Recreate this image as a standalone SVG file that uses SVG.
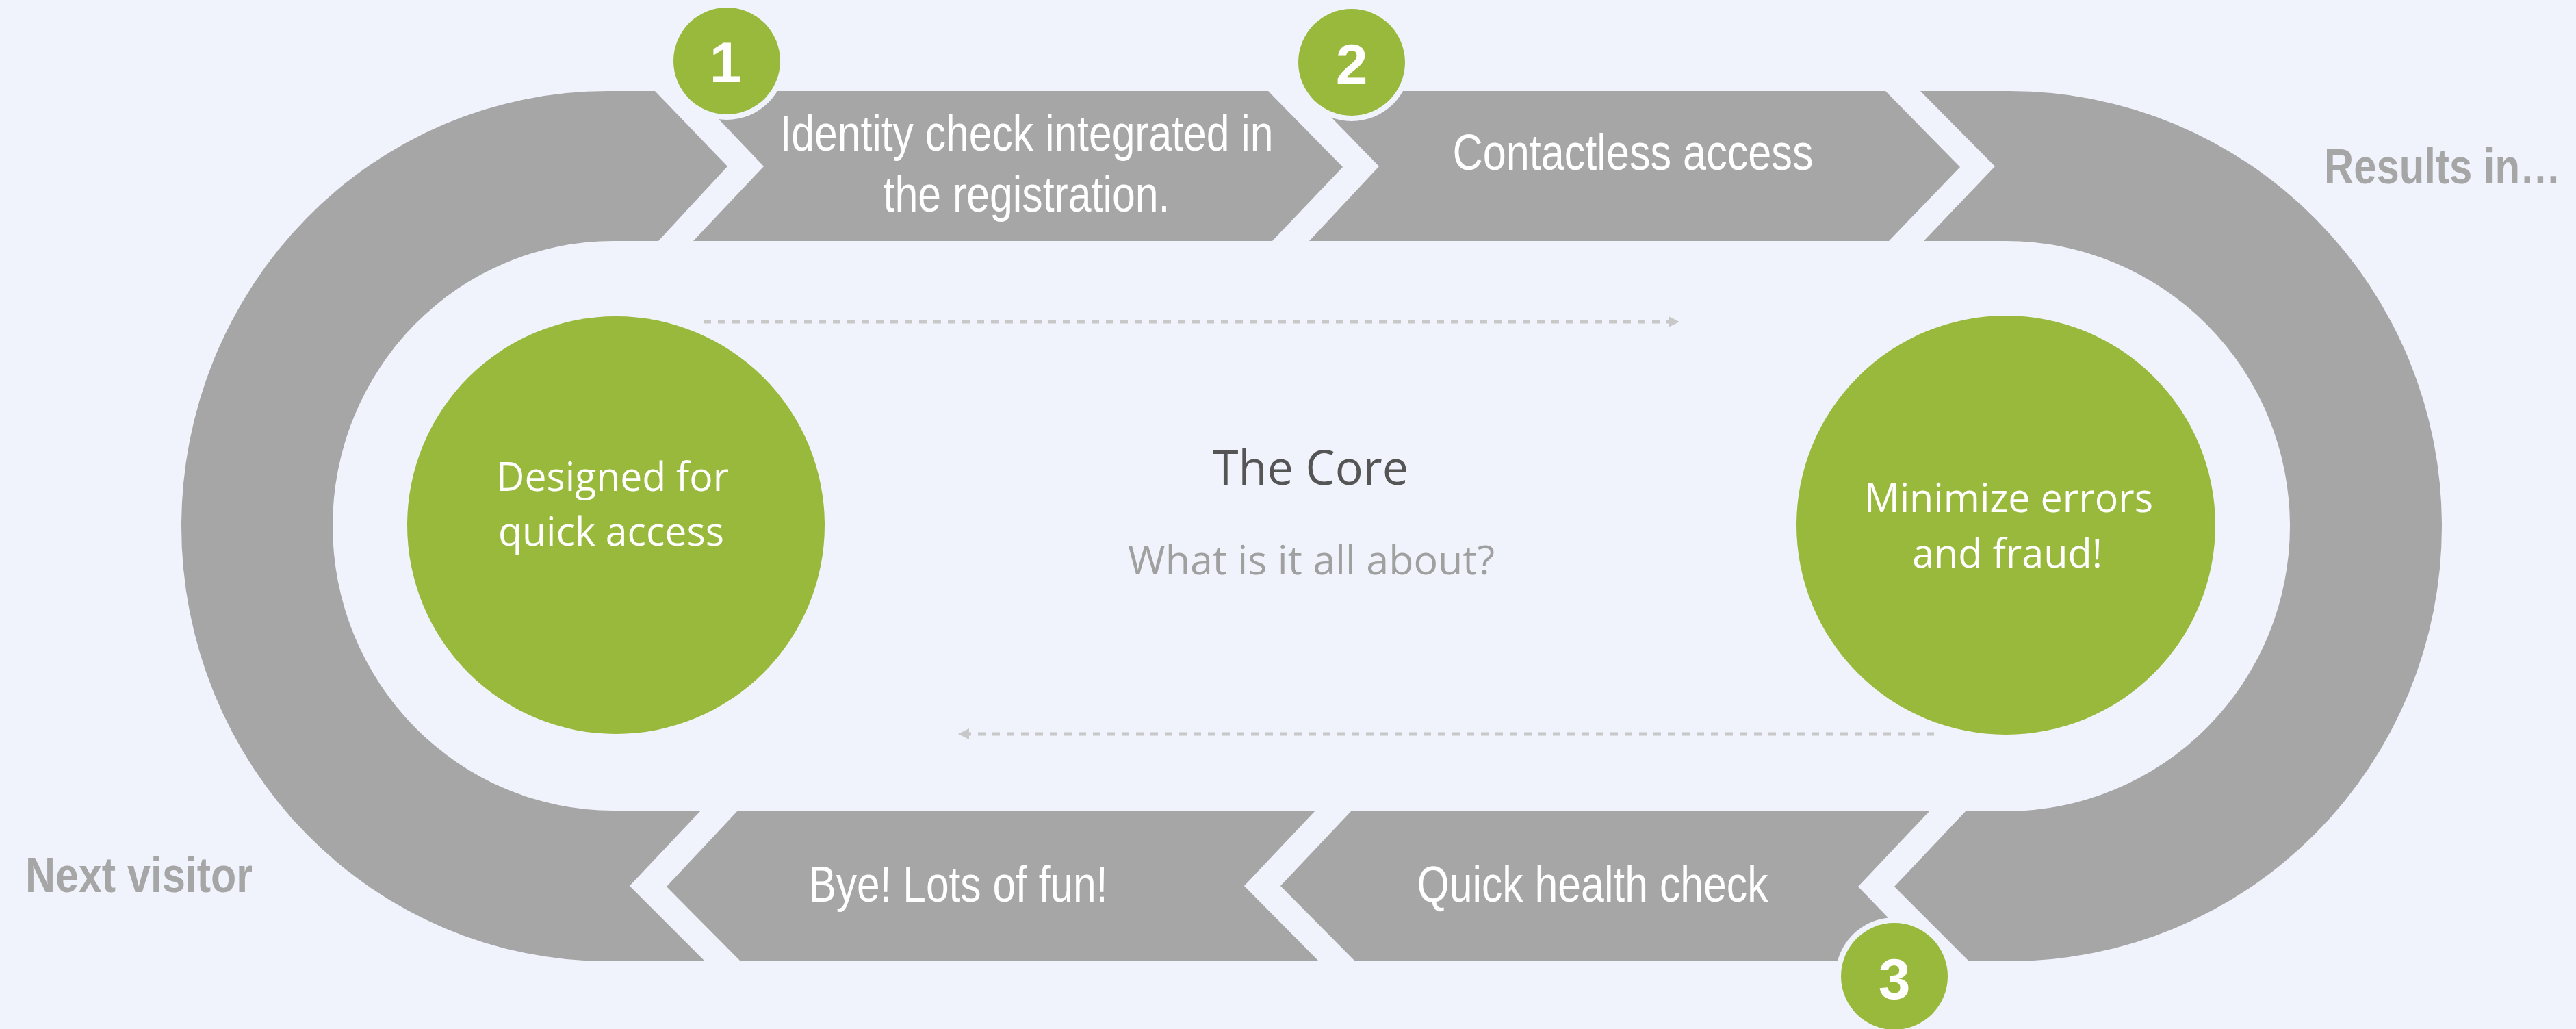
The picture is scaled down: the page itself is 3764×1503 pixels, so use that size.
<svg xmlns="http://www.w3.org/2000/svg" width="3764" height="1503" viewBox="0 0 3764 1503">
<defs>
<style>
.band{fill:#A6A6A6}
.big{fill:#98B93B}
.ring{fill:#F0F3FC}
.badge{fill:#98B93B}
.num{font-family:"Liberation Sans",Arial,sans-serif;font-weight:bold;font-size:84px;fill:#FFFFFF;text-anchor:middle}
.step{font-family:"Liberation Sans Narrow","Liberation Sans",Arial,sans-serif;font-size:75px;fill:#FFFFFF;text-anchor:middle}
.side{font-family:"Liberation Sans Narrow","Liberation Sans",Arial,sans-serif;font-weight:bold;font-size:73px;fill:#A6A6A6}
.side2{font-family:"Liberation Sans",Arial,sans-serif;font-weight:bold;font-size:73px;fill:#A6A6A6}
.ctext{font-family:"Open Sans","Noto Sans",sans-serif;font-size:58px;fill:#FFFFFF;text-anchor:middle}
.title{font-family:"Open Sans","Noto Sans",sans-serif;font-size:70px;fill:#555555;text-anchor:middle}
.sub{font-family:"Open Sans","Noto Sans",sans-serif;font-size:59px;fill:#A0A0A0;text-anchor:middle}
.dash{stroke:#C8C8C8;stroke-width:5;stroke-dasharray:11 10;fill:none}
</style>
<marker id="arr" viewBox="0 0 10 10" refX="0" refY="5" markerWidth="16" markerHeight="16" markerUnits="userSpaceOnUse" orient="auto">
<path d="M0,0 L10,5 L0,10 Z" fill="#C8C8C8"/>
</marker>
</defs>
<rect width="3764" height="1503" fill="#F0F3FC"/>

<g id="arc-left">
<path class="band" d="M 888,133 L 957,133 L 1063,243 L 962,352 L 896,352 A 410 416 0 0 0 896,1184 L 1024,1184 L 920,1294 L 1030,1404 L 888,1404 A 623 635.5 0 0 1 888,133 Z"/>
</g>
<g id="arc-right">
<path class="band" d="M 2806,133 L 2936,133 A 632 635.5 0 0 1 2936,1404 L 2877,1404 L 2768,1295 L 2872,1185 L 2931,1185 A 415 416.5 0 0 0 2931,352 L 2811,352 L 2915,243 Z"/>
</g>

<g id="step-identity">
<path class="band" d="M 1011,133 L 1853,133 L 1962,244 L 1859,352 L 1013,352 L 1116,243 Z"/>
<text class="step" x="1500" y="220" textLength="721" lengthAdjust="spacingAndGlyphs">Identity check integrated in</text>
<text class="step" x="1500" y="309" textLength="419" lengthAdjust="spacingAndGlyphs">the registration.</text>
</g>
<g id="step-contactless">
<path class="band" d="M 1908,133 L 2755,133 L 2864,244 L 2760,352 L 1913,352 L 2015,243 Z"/>
<text class="step" x="2386" y="248" textLength="527" lengthAdjust="spacingAndGlyphs">Contactless access</text>
</g>
<g id="step-health">
<path class="band" d="M 1975,1184 L 2820,1184 L 2715,1295 L 2820,1404 L 1980,1404 L 1871,1294 Z"/>
<text class="step" x="2327" y="1317" textLength="513" lengthAdjust="spacingAndGlyphs">Quick health check</text>
</g>
<g id="step-bye">
<path class="band" d="M 1078,1184 L 1922,1184 L 1818,1294 L 1927,1404 L 1082,1404 L 974,1295 Z"/>
<text class="step" x="1400" y="1317" textLength="437" lengthAdjust="spacingAndGlyphs">Bye! Lots of fun!</text>
</g>

<g id="badge-1">
<circle class="ring" cx="1062" cy="89" r="86"/>
<circle class="badge" cx="1062" cy="89" r="78"/>
<text class="num" x="1060" y="120">1</text>
</g>
<g id="badge-2">
<circle class="ring" cx="1975" cy="91" r="86"/>
<circle class="badge" cx="1975" cy="91" r="78"/>
<text class="num" x="1975" y="123">2</text>
</g>
<g id="badge-3">
<circle class="ring" cx="2768" cy="1426" r="86"/>
<circle class="badge" cx="2768" cy="1426" r="78"/>
<text class="num" x="2768" y="1459">3</text>
</g>

<g id="circle-quick">
<circle class="big" cx="900" cy="767" r="305"/>
<text class="ctext" x="895" y="717" textLength="340" lengthAdjust="spacingAndGlyphs">Designed for</text>
<text class="ctext" x="893" y="797" textLength="330" lengthAdjust="spacingAndGlyphs">quick access</text>
</g>
<g id="circle-errors">
<circle class="big" cx="2931" cy="767" r="306"/>
<text class="ctext" x="2935" y="748" textLength="422" lengthAdjust="spacingAndGlyphs">Minimize errors</text>
<text class="ctext" x="2933" y="829" textLength="278" lengthAdjust="spacingAndGlyphs">and fraud!</text>
</g>

<g id="core">
<text class="title" x="1915" y="708" textLength="286" lengthAdjust="spacingAndGlyphs">The Core</text>
<text class="sub" x="1916" y="839" textLength="536" lengthAdjust="spacingAndGlyphs">What is it all about?</text>
</g>

<g id="label-results">
<text class="side2" transform="translate(3396,268) scale(0.82,1)" x="0" y="0">Results in…</text>
</g>
<g id="label-next">
<text class="side" x="37" y="1303" textLength="332" lengthAdjust="spacingAndGlyphs">Next visitor</text>
</g>

<g id="connectors">
<line class="dash" x1="1028" y1="470" x2="2438" y2="470" marker-end="url(#arr)"/>
<line class="dash" x1="2826" y1="1072" x2="1416" y2="1072" marker-end="url(#arr)"/>
</g>
</svg>
